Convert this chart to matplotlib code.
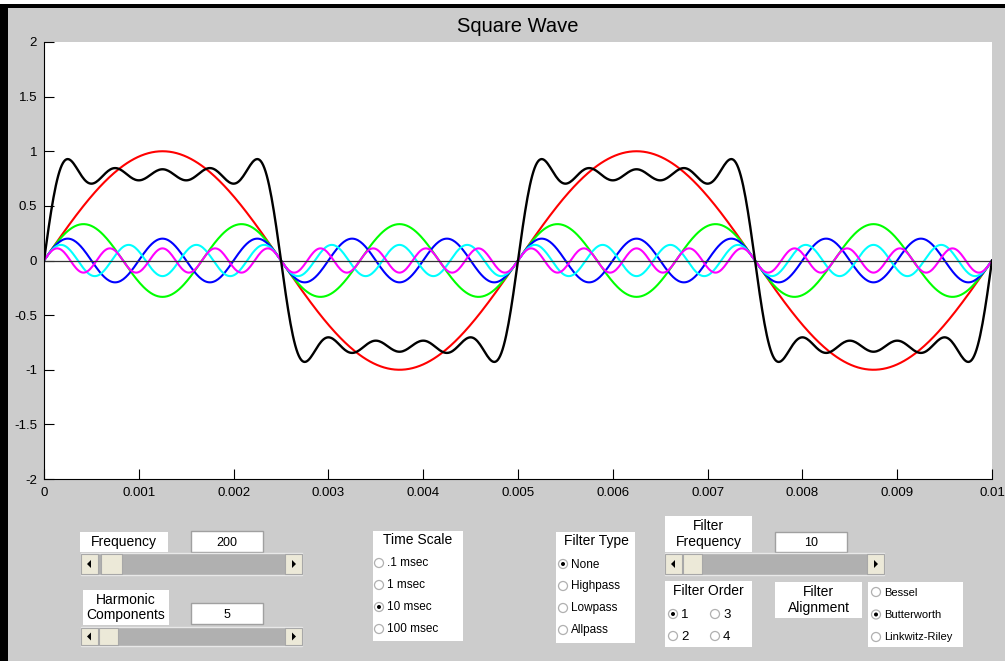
import numpy as np
import matplotlib.pyplot as plt
from matplotlib.patches import Rectangle, Circle, Polygon

plt.rcParams['font.family'] = ['Liberation Sans', 'DejaVu Sans']

# signal settings
frequency = 200                      # Hz
harmonics = [1, 3, 5, 7, 9]
amplitudes = [1.0, 0.333, 0.2, 0.143, 0.111]
harmonic_colors = ['#ff0000', '#00ff00', '#0000ff', '#00ffff', '#ff00ff']
t_end = 0.01

x_ticks = [0, 0.001, 0.002, 0.003, 0.004, 0.005, 0.006, 0.007, 0.008, 0.009, 0.01]
x_labels = ['0', '0.001', '0.002', '0.003', '0.004', '0.005', '0.006', '0.007', '0.008', '0.009', '0.01']
y_ticks = [-2, -1.5, -1, -0.5, 0, 0.5, 1, 1.5, 2]
y_labels = ['-2', '-1.5', '-1', '-0.5', '0', '0.5', '1', '1.5', '2']

time_scales = ['.1 msec', '1 msec', '10 msec', '100 msec']
filter_types = ['None', 'Highpass', 'Lowpass', 'Allpass']
alignments = ['Bessel', 'Butterworth', 'Linkwitz-Riley']

W, H = 1005, 661
GRAY = '#cccccc'
BEIGE = '#ece9d8'

fig = plt.figure(figsize=(W / 100, H / 100), dpi=100, facecolor=GRAY)

# full-figure overlay in pixel units for the GUI pieces
ui = fig.add_axes([0, 0, 1, 1])
ui.set_xlim(0, W)
ui.set_ylim(H, 0)
ui.axis('off')

ui.add_patch(Rectangle((0, 0), W, 4, fc='white', ec='none'))
ui.add_patch(Rectangle((0, 4), W, 3.5, fc='black', ec='none'))
ui.add_patch(Rectangle((0, 4), 7.5, H, fc='black', ec='none'))

ui.text(518, 26, 'Square Wave', ha='center', va='center', fontsize=14.5)


def label_box(x0, y0, x1, y1, text, fs=10):
    ui.add_patch(Rectangle((x0, y0), x1 - x0, y1 - y0, fc='white', ec='none'))
    ui.text((x0 + x1) / 2, (y0 + y1) / 2, text, ha='center', va='center',
            fontsize=fs, linespacing=1.1)


def edit_box(x0, y0, x1, y1, text):
    ui.add_patch(Rectangle((x0, y0), x1 - x0, y1 - y0, fc='white', ec='#a0a0a0', lw=1))
    ui.text((x0 + x1) / 2, (y0 + y1) / 2 + 1, text, ha='center', va='center', fontsize=9)


def slider(x0, y0, x1, y1, th0, th1):
    h = y1 - y0
    bw = 17
    ui.add_patch(Rectangle((x0, y0), x1 - x0, h, fc='#b0b0b0', ec='#e8e8e8', lw=1))
    for bx in (x0, x1 - bw):
        ui.add_patch(Rectangle((bx, y0 + 1), bw, h - 2, fc=BEIGE, ec='#a8a8a8', lw=0.8))
    cy = (y0 + y1) / 2
    ui.add_patch(Polygon([[x0 + 6, cy], [x0 + 10, cy - 4], [x0 + 10, cy + 4]], fc='black', ec='none'))
    ui.add_patch(Polygon([[x1 - 6, cy], [x1 - 10, cy - 4], [x1 - 10, cy + 4]], fc='black', ec='none'))
    ui.add_patch(Rectangle((th0, y0 + 1), th1 - th0, h - 2, fc=BEIGE, ec='#a8a8a8', lw=0.8))


def radio(x, y, label, checked, fs=8.5):
    ui.add_patch(Circle((x, y), 4.5, fc='white', ec='#b0b0b0', lw=0.9))
    if checked:
        ui.add_patch(Circle((x, y), 2, fc='black', ec='none'))
    ui.text(x + 8, y + 0.5, label, ha='left', va='center', fontsize=fs)


# frequency / harmonic controls
label_box(80, 532, 168, 552, 'Frequency')
edit_box(191, 531, 263, 552, str(frequency))
slider(81, 553, 302, 575, 101, 122)
label_box(83, 590, 169, 625, 'Harmonic\nComponents')
edit_box(191, 603, 263, 624, str(len(harmonics)))
slider(81, 627, 302, 646, 99, 118)

# time scale
label_box(373, 531, 463, 641, '')
ui.text(418, 540, 'Time Scale', ha='center', va='center', fontsize=10)
for i, lab in enumerate(time_scales):
    radio(379, 563 + i * 22, lab, lab == '10 msec')

# filter type
label_box(556, 532, 635, 643, '')
ui.text(596, 541, 'Filter Type', ha='center', va='center', fontsize=10)
for i, lab in enumerate(filter_types):
    radio(563, 564 + i * 22, lab, lab == 'None')

# filter frequency
label_box(665, 516, 752, 552, 'Filter\nFrequency')
edit_box(775, 532, 847, 552, '10')
slider(665, 553, 884, 575, 683, 702)

# filter order
label_box(665, 581, 752, 647, '')
ui.text(708, 591, 'Filter Order', ha='center', va='center', fontsize=10)
for lab, (rx, ry) in zip(['1', '3', '2', '4'], [(673, 614), (715, 614), (673, 636), (715, 636)]):
    radio(rx, ry, lab, lab == '1', fs=9.5)

# filter alignment
label_box(775, 582, 862, 618, 'Filter\nAlignment')
label_box(868, 582, 963, 647, '')
for i, lab in enumerate(alignments):
    radio(876, 592 + i * 22.5, lab, lab == 'Butterworth', fs=8)

# main plot
ax = fig.add_axes([44 / W, (H - 479) / H, 948 / W, 437 / H])
ax.set_facecolor('white')

t = np.linspace(0, t_end, 801)
total = np.zeros_like(t)
for n, a, c in zip(harmonics, amplitudes, harmonic_colors):
    y = a * np.sin(2 * np.pi * frequency * n * t)
    total += y
    ax.plot(t, y, color=c, lw=1.5)
ax.axhline(0, color='#333333', lw=0.9)
ax.plot(t, total, color='black', lw=1.7)

ax.set_xlim(0, t_end)
ax.set_ylim(-2, 2)
ax.set_xticks(x_ticks)
ax.set_xticklabels(x_labels)
ax.set_yticks(y_ticks)
ax.set_yticklabels(y_labels)
ax.tick_params(direction='in', length=7, width=0.8, labelsize=9.5, colors='black')
ax.tick_params(axis='x', pad=6)
ax.tick_params(axis='y', pad=5)
for s in ('top', 'right'):
    ax.spines[s].set_visible(False)
for s in ('left', 'bottom'):
    ax.spines[s].set_linewidth(0.8)

fig.savefig('out.png', dpi=100, facecolor=GRAY)
